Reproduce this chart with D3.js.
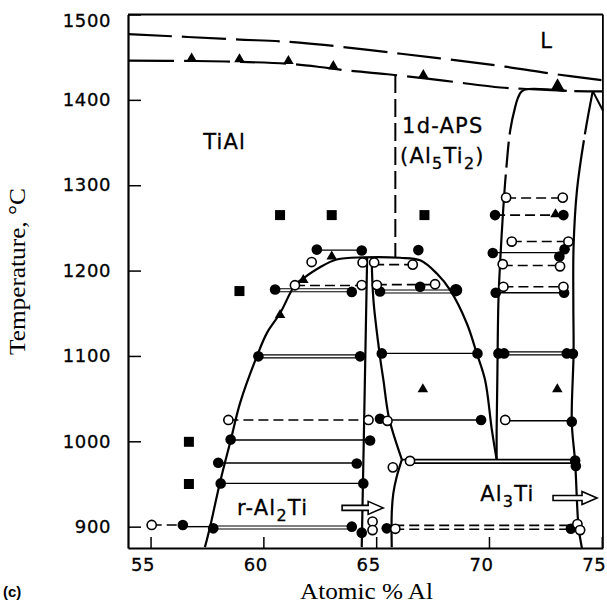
<!DOCTYPE html>
<html>
<head>
<meta charset="utf-8">
<script src="https://cdn.jsdelivr.net/npm/d3@7"></script>
<style>
  html, body { margin: 0; padding: 0; background: #fff; }
  svg { display: block; }
  .tick text { font-family: "DejaVu Sans", sans-serif; font-size: 18px; letter-spacing: 0.6px; fill: #000; stroke: #000; stroke-width: 0.3px; }
  .phase { font-family: "DejaVu Sans", sans-serif; font-size: 21px; letter-spacing: 1.2px; fill: #000; stroke: #000; stroke-width: 0.3px; }
</style>
</head>
<body>
<svg id="chart" width="607" height="603"></svg>
<script>
// ---------- axis ticks ----------
const alTicks = [55, 60, 65, 70, 75];
const tempTicks = [900, 1000, 1100, 1200, 1300, 1400, 1500];

// ---------- phase boundaries, [at.% Al, °C] ----------
const liquidus = [[54,1477],[58.7,1471],[61.6,1467],[66.1,1454],[70.7,1439],[72.7,1431],[75.05,1423]];
const peritecticLine = [[54,1446],[57,1445.5],[59,1444.5],[61,1442.5],[62.5,1438.5],[63.5,1435],
  [65.5,1430],[68,1422.5],[70.5,1414.5],[71.5,1413],[73.45,1410.5],[75.05,1410]];
const apsDashed = [[65.85,1429],[65.85,1215]];
const domeBoundary = [[57.41,876],[57.64,900],[58.08,952],[58.55,1001],[58.97,1045],[59.72,1100],
  [60.16,1127],[60.74,1150],[61.4,1183],[61.77,1191],[62.51,1204],[63.25,1213],[64.43,1215.5],
  [66.06,1215],[66.95,1212],[67.69,1196.5],[68.28,1177],[69.02,1138],[69.46,1103],[69.83,1071.6],
  [70.13,1013],[70.34,978.5]];
const al2tiRight = [[64.6,1215.3],[64.52,1100],[64.45,1000],[64.36,876]];
const apsLeft = [[64.8,1215],[64.88,1165],[65.17,1099],[65.32,1072],[65.58,1026],[66.14,978.5]];
const al3tiLowLeft = [[66.14,978.5],[65.91,958.4],[65.76,939],[65.69,915.5],[65.69,876]];
const al3tiLeft = [[73.45,1410.5],[71.75,1412.7],[71.45,1410],[71.28,1402],[71.16,1391.5],[70.94,1364],
  [70.76,1317],[70.63,1271],[70.5,1212],[70.42,1165],[70.37,1072],[70.34,1013],[70.34,978.5]];
const al3tiPeak = [[75.05,1387.6],[74.6,1410.2]];
const al3tiRight = [[74.6,1410.2],[74.26,1361],[73.9,1294],[73.75,1228],[73.74,1160],[73.75,1103],
  [73.67,1023],[73.82,975],[73.97,900],[74.12,875]];
const eutectoid = [[66.14, 73.82, 978.5], [66.3, 73.82, 974.5]];

// ---------- tie lines: [Al from, Al to, °C, kind] ----------
const tieLines = [
  [55.05, 56.43, 902, 'dashed'],
  [56.43, 57.78, 900, 'solid'],
  [57.78, 63.92, 899, 'double'],
  [65.8, 73.9, 901.5, 'dashed'],
  [65.8, 73.9, 897, 'dashed'],
  [58.11, 64.43, 950.7, 'solid'],
  [58.0, 64.14, 974.5, 'solid'],
  [58.55, 64.73, 1001.5, 'solid'],
  [58.45, 64.66, 1025, 'dashed'],
  [65.5, 69.65, 1025, 'solid'],
  [70.72, 73.67, 1024, 'solid'],
  [59.78, 64.29, 1099.5, 'double'],
  [65.25, 69.49, 1103, 'solid'],
  [70.55, 73.6, 1103, 'double'],
  [60.52, 63.92, 1177, 'double'],
  [61.4, 64.36, 1182.5, 'dashed'],
  [65.03, 67.61, 1183.5, 'dashed'],
  [65.17, 68.54, 1175.5, 'double'],
  [70.3, 73.33, 1174, 'solid'],
  [70.64, 73.3, 1181, 'dashed'],
  [70.61, 73.15, 1206, 'dashed'],
  [64.91, 66.62, 1207, 'dashed'],
  [62.37, 64.36, 1224, 'solid'],
  [70.17, 73.2, 1221, 'solid'],
  [71.01, 73.52, 1234, 'dashed'],
  [70.27, 73.1, 1265, 'dashed'],
  [70.76, 73.27, 1285, 'dashed']
];

// ---------- experimental points ----------
const filledPts = [
  [56.43,902],[57.78,898],[63.92,900],[64.36,893],[65.47,898],[73.63,897.5],
  [58.11,950.7],[64.43,950.7],
  [58.0,974.8],[64.14,974],
  [73.82,977.5],[73.85,971],
  [58.55,1002],[64.73,1001],
  [65.17,1026.5],[69.65,1025],[73.67,1023],
  [59.78,1099.5],[64.29,1099.5],[65.25,1103],[69.49,1103],[70.42,1103],[70.67,1103],[73.45,1103],[73.72,1102.5],
  [60.52,1177.8],[63.92,1175],[65.17,1175.5],[66.95,1181],[68.54,1177],[70.3,1174],[73.33,1174],
  [62.37,1224.6],[64.36,1223.5],[66.87,1224],[70.17,1220.6],[73.35,1225],[73.12,1216.5],
  [70.27,1265],[73.3,1265]
];
const openPts = [
  [55.05,902],[64.84,906],[64.84,896],[65.85,897.5],[73.92,903],[74.04,896],
  [65.74,969.5],[66.5,977],
  [58.45,1025],[64.66,1025],[65.5,1024],[70.72,1025],
  [61.4,1182.8],[64.36,1183],[65.03,1183],[67.61,1184],[70.64,1181],[73.3,1181],
  [62.14,1210],[64.4,1209.5],[64.91,1209.5],[66.62,1207],[70.61,1207.5],[73.15,1205],
  [71.01,1234],[73.52,1234],
  [70.76,1285.5],[73.27,1285.5]
];
const squarePts = [[56.7,999.4],[56.7,950],[58.94,1176],[60.74,1265],[63.03,1265],[67.14,1265]];
const trianglePts = [[56.82,1448.5],[58.94,1447.5],[61.11,1445.5],[63.1,1439.5],[67.09,1429],[73.04,1416],
  [63.03,1216.5],[61.77,1189],[60.74,1148],[67.07,1061],[73.03,1061],[72.95,1266]];

// ---------- phase labels and arrows ----------
const phaseLabels = [
  { parts: [["TiAl", 0]], al: 57.33, t: 1343 },
  { parts: [["L", 0]], al: 72.27, t: 1461 },
  { parts: [["1d-APS", 0]], al: 66.15, t: 1361 },
  { parts: [["(Al", 0], ["5", 1], ["Ti", 0], ["2", 1], [")", 0]], al: 66.06, t: 1326 },
  { parts: [["r-Al", 0], ["2", 1], ["Ti", 0]], al: 58.83, t: 913.5 },
  { parts: [["Al", 0], ["3", 1], ["Ti", 0]], al: 69.61, t: 930 }
];
const arrows = [
  { from: 63.49, to: 65.31, t: 922 },
  { from: 72.84, to: 74.79, t: 933.5 }
];

// ---------- scales ----------
const svg = d3.select("#chart");
const x = d3.scaleLinear().domain([54, 75.05]).range([128, 602.9]);
const y = d3.scaleLinear().domain([875, 1500]).range([548, 14.5]);
const straight = d3.line().x(d => x(d[0])).y(d => y(d[1]));
const smooth = d3.line().x(d => x(d[0])).y(d => y(d[1])).curve(d3.curveCatmullRom.alpha(0.5));

// ---------- frame and axes ----------
svg.append("line").attr("x1", x(54)).attr("x2", x(75.05)).attr("y1", y(1500)).attr("y2", y(1500))
  .attr("stroke", "#000").attr("stroke-width", 1.8);
svg.append("line").attr("x1", x(75.05)).attr("x2", x(75.05)).attr("y1", y(1500)).attr("y2", y(875))
  .attr("stroke", "#000").attr("stroke-width", 1.8);

const xAxis = svg.append("g").attr("transform", `translate(0,${y(875)})`)
  .call(d3.axisBottom(x).tickValues(alTicks).tickSizeInner(-11).tickSizeOuter(0).tickPadding(10).tickFormat(d3.format("d")));
xAxis.selectAll("text").attr("dx", -8);

const yAxis = svg.append("g").attr("transform", `translate(${x(54)},0)`)
  .call(d3.axisLeft(y).tickValues(tempTicks).tickSizeInner(-13).tickSizeOuter(0).tickPadding(17).tickFormat(d3.format("d")));
yAxis.selectAll("text").filter(d => d === 1500).attr("transform", "translate(0,6)");

[xAxis, yAxis].forEach(g => {
  g.select(".domain").attr("stroke", "#000").attr("stroke-width", 2.2);
  g.selectAll(".tick line").attr("stroke", "#000").attr("stroke-width", 1.5);
});

// axis titles
svg.append("text")
  .attr("transform", "translate(25,271.5) rotate(-90)")
  .attr("text-anchor", "middle")
  .attr("font-family", "'Liberation Serif', 'Times New Roman', serif")
  .attr("font-size", 24)
  .attr("textLength", 167).attr("lengthAdjust", "spacingAndGlyphs")
  .text("Temperature, °C");
svg.append("text")
  .attr("x", 300).attr("y", 599)
  .attr("font-family", "'Liberation Serif', 'Times New Roman', serif")
  .attr("font-size", 24)
  .attr("textLength", 133).attr("lengthAdjust", "spacingAndGlyphs")
  .text("Atomic % Al");
svg.append("text")
  .attr("x", 3).attr("y", 597)
  .attr("font-family", "'Liberation Sans', Arial, sans-serif")
  .attr("font-weight", "bold").attr("font-size", 15)
  .text("(c)");

// ---------- phase boundaries ----------
const plot = svg.append("g").attr("fill", "none").attr("stroke", "#000");

plot.append("path").attr("d", smooth(liquidus)).attr("stroke-width", 2.2).attr("stroke-dasharray", "44,10");
plot.append("path").attr("d", smooth(peritecticLine)).attr("stroke-width", 2.2).attr("stroke-dasharray", "46,10");
plot.append("path").attr("d", straight(apsDashed)).attr("stroke-width", 2).attr("stroke-dasharray", "18,6");

plot.append("path").attr("d", smooth(domeBoundary)).attr("stroke-width", 2.2);
plot.append("path").attr("d", straight(al2tiRight)).attr("stroke-width", 2.2);
plot.append("path").attr("d", smooth(apsLeft)).attr("stroke-width", 2.2);
plot.append("path").attr("d", smooth(al3tiLowLeft)).attr("stroke-width", 2.2);
plot.append("path").attr("d", smooth(al3tiLeft)).attr("stroke-width", 2.2).attr("stroke-dasharray", "91,7,26,7,3000");
plot.append("path").attr("d", straight(al3tiPeak)).attr("stroke-width", 2);
plot.append("path").attr("d", smooth(al3tiRight)).attr("stroke-width", 2.2).attr("stroke-dasharray", "44,6,3000");

eutectoid.forEach(e => {
  plot.append("line").attr("x1", x(e[0])).attr("x2", x(e[1])).attr("y1", y(e[2])).attr("y2", y(e[2]))
    .attr("stroke-width", 1.8);
});

// ---------- tie lines ----------
tieLines.forEach(([a, b, t, kind]) => {
  const x1 = x(a), x2 = x(b), yy = y(t);
  if (kind === "double") {
    [-1.5, 1.5].forEach(o => plot.append("line").attr("x1", x1).attr("x2", x2)
      .attr("y1", yy + o).attr("y2", yy + o).attr("stroke-width", 1.1));
  } else {
    const ln = plot.append("line").attr("x1", x1).attr("x2", x2).attr("y1", yy).attr("y2", yy)
      .attr("stroke-width", kind === "dashed" ? 1.6 : 1.4);
    if (kind === "dashed") ln.attr("stroke-dasharray", "10,5");
  }
});

// ---------- markers ----------
const marks = svg.append("g");
marks.selectAll("path.sq").data(squarePts).join("path").attr("class", "sq")
  .attr("d", d3.symbol(d3.symbolSquare, 100))
  .attr("transform", d => `translate(${x(d[0])},${y(d[1])})`)
  .attr("fill", "#000");
marks.selectAll("path.tri").data(trianglePts).join("path").attr("class", "tri")
  .attr("d", (d, i) => d3.symbol(d3.symbolTriangle, i === 5 ? 80 : 48)())
  .attr("transform", d => `translate(${x(d[0])},${y(d[1])})`)
  .attr("fill", "#000");
marks.selectAll("circle.f").data(filledPts).join("circle").attr("class", "f")
  .attr("cx", d => x(d[0])).attr("cy", d => y(d[1]))
  .attr("r", d => (d[0] === 68.54 ? 6.2 : 5.3))
  .attr("fill", "#000");
marks.selectAll("circle.o").data(openPts).join("circle").attr("class", "o")
  .attr("cx", d => x(d[0])).attr("cy", d => y(d[1]))
  .attr("r", 4.6)
  .attr("fill", "#fff").attr("stroke", "#000").attr("stroke-width", 1.6);

// ---------- hollow arrows ----------
arrows.forEach(a => {
  const x0 = x(a.from), x1 = x(a.to), yc = y(a.t), hl = 15;
  const p = d3.path();
  p.moveTo(x0, yc - 2.5); p.lineTo(x1 - hl, yc - 2.5); p.lineTo(x1 - hl, yc - 6.5);
  p.lineTo(x1, yc); p.lineTo(x1 - hl, yc + 6.5); p.lineTo(x1 - hl, yc + 2.5);
  p.lineTo(x0, yc + 2.5); p.closePath();
  svg.append("path").attr("d", p.toString())
    .attr("fill", "#fff").attr("stroke", "#000").attr("stroke-width", 1.6).attr("stroke-linejoin", "miter");
});

// ---------- phase labels ----------
phaseLabels.forEach(lb => {
  const t = svg.append("text").attr("class", "phase").attr("x", x(lb.al)).attr("y", y(lb.t));
  let shifted = 0;
  lb.parts.forEach(([s, sub]) => {
    const ts = t.append("tspan").text(s);
    if (sub && !shifted) { ts.attr("dy", 6).attr("font-size", 16); shifted = 1; }
    else if (!sub && shifted) { ts.attr("dy", -6); shifted = 0; }
  });
});
</script>
</body>
</html>
